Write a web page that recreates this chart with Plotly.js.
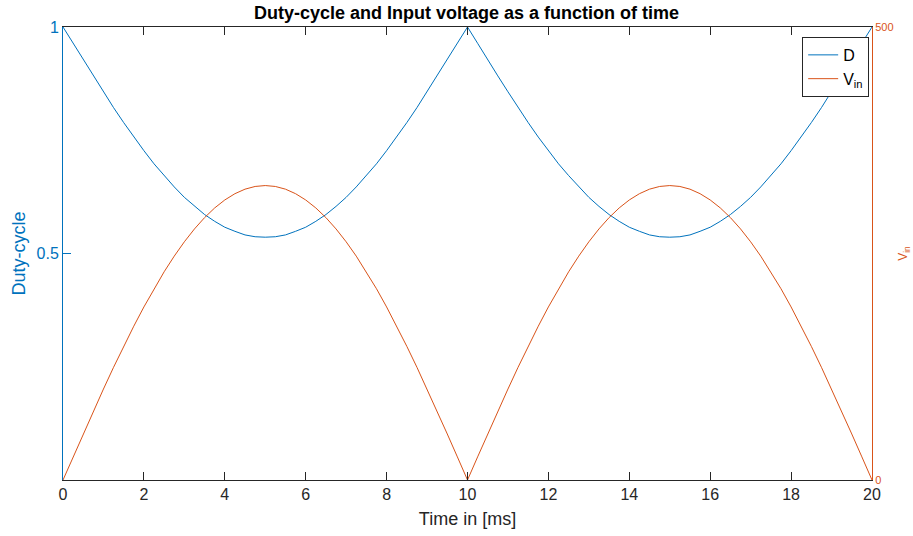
<!DOCTYPE html>
<html>
<head>
<meta charset="utf-8">
<script src="https://cdn.plot.ly/plotly-3.0.1.min.js"></script>
<style>html,body{margin:0;padding:0;background:#fff;}#chart{width:913px;height:536px;}</style>
</head>
<body>
<div id="chart"></div>
<script>
// Time in ms
var timeMs = [0,0.25,0.5,0.75,1,1.25,1.5,1.75,2,2.25,2.5,2.75,3,3.25,3.5,3.75,4,4.25,4.5,4.75,5,
  5.25,5.5,5.75,6,6.25,6.5,6.75,7,7.25,7.5,7.75,8,8.25,8.5,8.75,9,9.25,9.5,9.75,10,
  10.25,10.5,10.75,11,11.25,11.5,11.75,12,12.25,12.5,12.75,13,13.25,13.5,13.75,14,14.25,14.5,14.75,15,
  15.25,15.5,15.75,16,16.25,16.5,16.75,17,17.25,17.5,17.75,18,18.25,18.5,18.75,19,19.25,19.5,19.75,20];
// Duty-cycle
var dutyCycle = [1,0.964,0.927,0.892,0.857,0.822,0.789,0.757,0.727,0.698,0.672,0.647,0.624,0.604,0.586,0.571,0.558,0.549,0.541,0.537,0.536,
  0.537,0.541,0.549,0.558,0.571,0.586,0.604,0.624,0.647,0.672,0.698,0.727,0.757,0.789,0.822,0.857,0.892,0.927,0.964,1,
  0.964,0.927,0.892,0.857,0.822,0.789,0.757,0.727,0.698,0.672,0.647,0.624,0.604,0.586,0.571,0.558,0.549,0.541,0.537,0.536,
  0.537,0.541,0.549,0.558,0.571,0.586,0.604,0.624,0.647,0.672,0.698,0.727,0.757,0.789,0.822,0.857,0.892,0.927,0.964,1];
// Input voltage
var inputVoltage = [0,25.5,50.8,75.9,100.4,124.4,147.5,169.8,191,211.1,229.8,247.1,262.9,277.1,289.6,300.3,309.1,316,321,324,325,
  324,321,316,309.1,300.3,289.6,277.1,262.9,247.1,229.8,211.1,191,169.8,147.5,124.4,100.4,75.9,50.8,25.5,0,
  25.5,50.8,75.9,100.4,124.4,147.5,169.8,191,211.1,229.8,247.1,262.9,277.1,289.6,300.3,309.1,316,321,324,325,
  324,321,316,309.1,300.3,289.6,277.1,262.9,247.1,229.8,211.1,191,169.8,147.5,124.4,100.4,75.9,50.8,25.5,0];
var xTicks = [0,2,4,6,8,10,12,14,16,18,20];
var dTicks = [0.5,1];
var dTickText = ['0.5','1'];
var vTicks = [0,500];

var blue = '#0072BD', orange = '#D95319', dark = '#262626';
var font = 'Liberation Sans, Arial, sans-serif';

var traces = [
  {x: timeMs, y: dutyCycle, type: 'scatter', mode: 'lines', name: 'D',
   line: {color: blue, width: 1}, yaxis: 'y'},
  {x: timeMs, y: inputVoltage, type: 'scatter', mode: 'lines', name: 'V<sub>in</sub>',
   line: {color: orange, width: 1}, yaxis: 'y2'}
];

var layout = {
  width: 913, height: 536,
  margin: {l: 63, r: 41, t: 27, b: 56},
  paper_bgcolor: '#fff', plot_bgcolor: '#fff',
  font: {family: font, color: dark},
  title: {text: '<b>Duty-cycle and Input voltage as a function of time</b>',
    font: {size: 18, color: '#000', family: font}, x: 0.511, xanchor: 'center', y: 0.976, yanchor: 'middle'},
  showlegend: true,
  legend: {x: 0.9965, y: 0.978, xanchor: 'right', yanchor: 'top',
    bgcolor: '#fff', bordercolor: dark, borderwidth: 1,
    font: {size: 16, color: '#000', family: font}, tracegroupgap: 0},
  xaxis: {range: [0, 20], tickvals: xTicks, ticks: 'inside', ticklen: 8, tickcolor: dark,
    showline: true, linecolor: dark, linewidth: 1, mirror: 'ticks', showgrid: false, zeroline: false,
    tickfont: {size: 16, color: dark}, title: {text: 'Time in [ms]', font: {size: 18, color: dark}, standoff: 10}},
  yaxis: {range: [0, 1], tickvals: dTicks, ticktext: dTickText, ticks: 'inside', ticklen: 8, tickcolor: blue,
    showline: true, linecolor: blue, linewidth: 1, showgrid: false, zeroline: false,
    tickfont: {size: 16, color: blue}, title: {text: 'Duty-cycle', font: {size: 18, color: blue}, standoff: 6}},
  yaxis2: {range: [0, 500], tickvals: vTicks, overlaying: 'y', side: 'right', ticks: 'inside', ticklen: 8, tickcolor: orange,
    showline: true, linecolor: orange, linewidth: 1, showgrid: false, zeroline: false,
    tickfont: {size: 11, color: orange}, title: {text: 'V<sub>in</sub>', font: {size: 12, color: orange}, standoff: 6}}
};

Plotly.newPlot('chart', traces, layout, {displayModeBar: false, staticPlot: true});
</script>
</body>
</html>
